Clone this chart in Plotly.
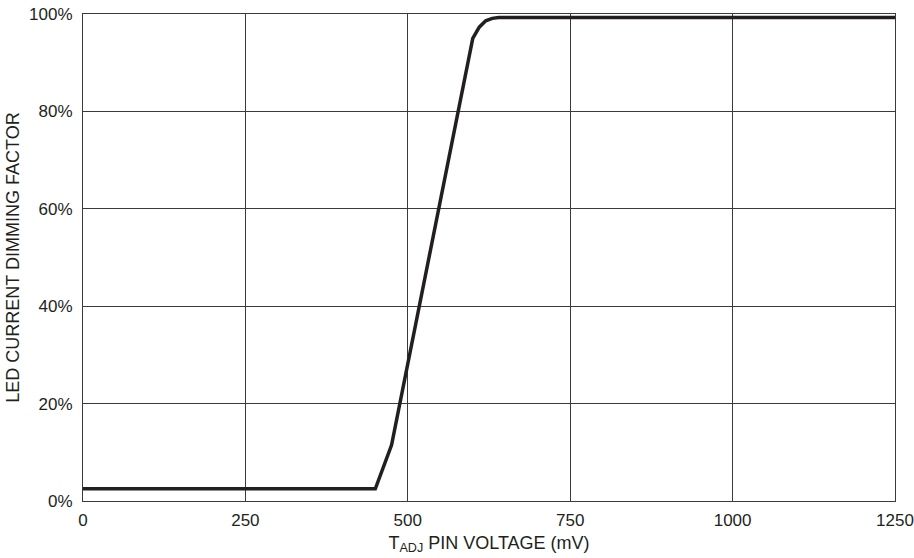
import plotly.graph_objects as go

voltage_mv = [0, 450, 475, 600, 610, 620, 630, 640, 1250]
dimming_pct = [2.5, 2.5, 11.5, 95.0, 97.3, 98.6, 99.1, 99.3, 99.3]

x_ticks = [0, 250, 500, 750, 1000, 1250]
y_ticks = [0, 20, 40, 60, 80, 100]

font_family = "Liberation Sans, Arial, sans-serif"

fig = go.Figure()
fig.add_trace(go.Scatter(
    x=voltage_mv, y=dimming_pct, mode="lines",
    line=dict(color="#231f20", width=3.5, shape="linear"),
    showlegend=False, hoverinfo="skip",
))

fig.update_layout(
    width=914, height=558,
    margin=dict(l=83, r=19, t=14, b=57, autoexpand=False),
    paper_bgcolor="white", plot_bgcolor="white",
    font=dict(family=font_family, size=16, color="#231f20"),
)
fig.update_xaxes(
    range=[0, 1250], tickvals=x_ticks, ticktext=[str(v) for v in x_ticks],
    showgrid=True, gridcolor="#3a3a3a", gridwidth=1,
    showline=True, linecolor="#3a3a3a", linewidth=1, mirror=True,
    ticks="", zeroline=False, ticklabelstandoff=4, automargin=False,
    tickfont=dict(size=17),
    title=dict(text="T<sub>ADJ</sub> PIN VOLTAGE (mV)", font=dict(size=18), standoff=6),
)
fig.update_yaxes(
    range=[0, 100], tickvals=y_ticks, ticktext=[f"{v}%" for v in y_ticks],
    showgrid=True, gridcolor="#3a3a3a", gridwidth=1,
    showline=True, linecolor="#3a3a3a", linewidth=1, mirror=True,
    ticks="", zeroline=False, ticklabelstandoff=6, automargin=False,
    tickfont=dict(size=17),
    title=dict(text="LED CURRENT DIMMING FACTOR", font=dict(size=18), standoff=4),
)

fig.write_html(
    "out.html",
    config={"displayModeBar": False, "staticPlot": True},
    post_script="document.body.style.margin='0px';",
)
